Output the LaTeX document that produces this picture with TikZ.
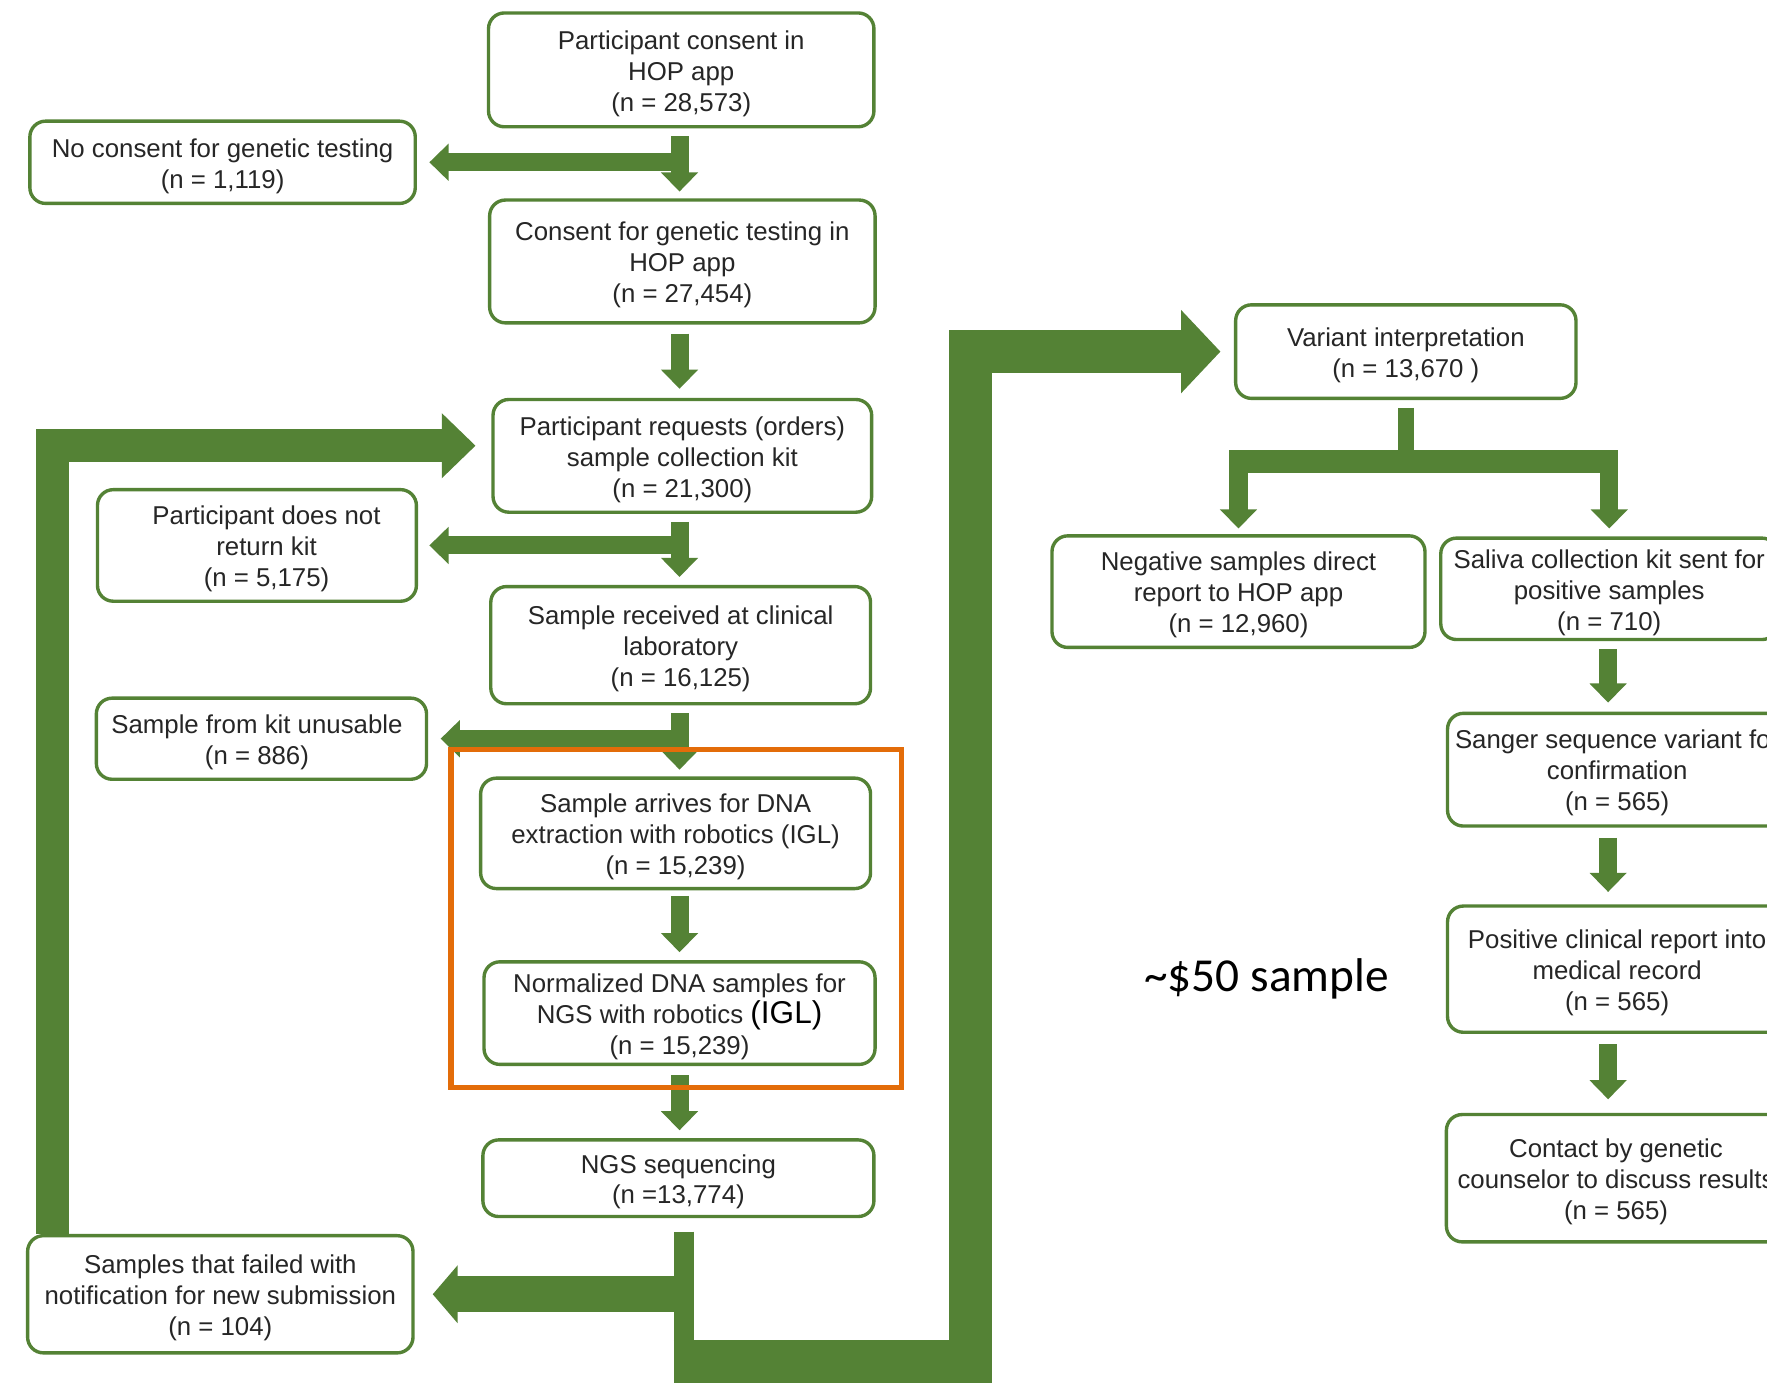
\documentclass[tikz,border=0pt]{standalone}
\usepackage{fontspec}
\setmainfont{Liberation Sans}
\newfontfamily\calfont{Carlito}
\usetikzlibrary{arrows.meta,calc}
\definecolor{hopgreen}{RGB}{84,130,53}
\definecolor{hlorange}{RGB}{227,108,9}
\definecolor{txt}{RGB}{38,38,38}
\newcommand{\topstrut}{\rule{0pt}{11.5pt}}
\tikzset{
  box/.style={draw=hopgreen, line width=1.5pt, rounded corners=7pt, fill=white,
    align=center, text=txt, inner sep=0pt, font=\fontsize{11.45}{13.75}\selectfont},
  flow/.style={draw=hopgreen, line width=8pt, -{Triangle[width=16pt,length=8.5pt]}},
  fatflow/.style={draw=hopgreen, line width=16pt, -{Triangle[width=25pt,length=11pt]}},
  loopflow/.style={draw=hopgreen, line width=14.5pt, line join=miter, -{Triangle[width=28pt,length=15pt]}},
  trunkflow/.style={draw=hopgreen, line width=19pt, line join=miter, -{Triangle[width=36pt,length=17.5pt]}},
  plainbar/.style={draw=hopgreen},
  framebox/.style={draw=hlorange, line width=2.5pt, inner sep=0pt},
  costlabel/.style={font=\calfont\fontsize{21}{25}\selectfont, text=black, inner sep=0pt}
}
\begin{document}
\begin{tikzpicture}[x=0.5pt,y=-0.5pt]
\useasboundingbox (0,0) rectangle (1568,1227);
\fill[white] (0,0) rectangle (1568,1227);
\clip (0,0) rectangle (1568,1227);

% helper coordinates
\coordinate (col) at (603,0);
\coordinate (col2) at (1427,0);
\coordinate (ngsx) at (607,0);
\coordinate (trunk) at (861,0);
\coordinate (loopx) at (46.5,0);
\coordinate (loopy) at (0,395.5);
\coordinate (splity) at (0,409.5);
\coordinate (trunkstart) at (598,1208);

% boxes
\node[box, minimum width=171pt, minimum height=50.5pt] (top) at (604.5,62) {\topstrut Participant consent in\\HOP app\\(n = 28,573)};
\node[box, minimum width=171pt, minimum height=36.5pt] (no) at (197.5,144) {\topstrut No consent for genetic testing\\(n = 1,119)};
\node[box, minimum width=171pt, minimum height=54.5pt] (consent) at (605.5,232) {\topstrut Consent for genetic testing in\\HOP app\\(n = 27,454)};
\node[box, minimum width=168pt, minimum height=50pt] (req) at (605.5,404.5) {\topstrut Participant requests (orders)\\sample collection kit\\(n = 21,300)};
\node[box, minimum width=141.5pt, minimum height=49.5pt] (notret) at (228,484) {\hspace*{8.5pt}\topstrut Participant does not\\\hspace*{8.5pt}return kit\\\hspace*{8.5pt}(n = 5,175)};
\node[box, minimum width=168.5pt, minimum height=52pt] (recv) at (604,572.5) {\topstrut Sample received at clinical\\laboratory\\(n = 16,125)};
\node[box, minimum width=146.5pt, minimum height=36pt] (unus) at (232,655.5) {\topstrut Sample from kit unusable\hspace*{4pt}\\(n = 886)\hspace*{4pt}};
\node[box, minimum width=173pt, minimum height=49pt] (arrive) at (599.5,739.5) {\topstrut Sample arrives for DNA\\extraction with robotics (IGL)\\(n = 15,239)};
\node[box, minimum width=173.5pt, minimum height=45.5pt] (norm) at (603,899) {\topstrut Normalized DNA samples for\\NGS with robotics {\fontsize{14}{13.75}\selectfont\color{black}(IGL)}\\(n = 15,239)};
\node[box, minimum width=173.5pt, minimum height=34pt] (ngs) at (602,1045.5) {\topstrut NGS sequencing\\(n =13,774)};
\node[box, minimum width=171pt, minimum height=52pt] (failed) at (195.5,1148.5) {\topstrut Samples that failed with\\notification for new submission\\(n = 104)};
\node[box, minimum width=151pt, minimum height=41.5pt] (var) at (1247.5,312) {\topstrut Variant interpretation\\(n = 13,670 )};
\node[box, minimum width=165.5pt, minimum height=49.5pt] (neg) at (1099,525) {\topstrut Negative samples direct\\report to HOP app\\(n = 12,960)};
\node[box, minimum width=149.5pt, minimum height=45pt] (sal) at (1428,522.5) {\topstrut Saliva collection kit sent for\\positive samples\\(n = 710)};
\node[box, minimum width=150.5pt, minimum height=50pt] (sanger) at (1435,683) {\topstrut Sanger sequence variant for\\confirmation\\(n = 565)};
\node[box, minimum width=150.5pt, minimum height=56pt] (posrep) at (1435,860) {\topstrut Positive clinical report into\\medical record\\(n = 565)};
\node[box, minimum width=150.5pt, minimum height=56.5pt] (contact) at (1434,1045.5) {\topstrut Contact by genetic\\counselor to discuss results\\(n = 565)};

% main column arrows
\draw[flow, shorten <=3.5pt, shorten >=3pt] (top.south -| col) -- (consent.north -| col);
\draw[flow, shorten >=5.5pt] (col |- no.east) -- (no.east);
\draw[flow, shorten <=4pt, shorten >=4pt] (consent.south -| col) -- (req.north -| col);
\draw[flow, shorten <=3.5pt, shorten >=3.5pt] (req.south -| col) -- (recv.north -| col);
\draw[flow, shorten >=5pt] (col |- notret.east) -- (notret.east);
\draw[flow, shorten <=3.5pt, shorten >=3pt] (recv.south -| col) -- (arrive.north -| col);
\draw[flow, shorten >=5.5pt] (col |- unus.east) -- (unus.east);
\draw[flow, shorten <=2.5pt, shorten >=3.5pt] (arrive.south -| col) -- (norm.north -| col);
\draw[flow, shorten <=4pt, shorten >=3.5pt] (norm.south -| col) -- (ngs.north -| col);

% NGS outputs
\draw[plainbar, line width=9pt, shorten <=6pt] (ngs.south -| ngsx) -- (ngsx |- trunkstart);
\draw[fatflow, shorten >=8pt] (ngsx |- failed.east) -- (failed.east);
\draw[trunkflow, shorten >=6pt] (trunkstart) -- (trunk |- trunkstart) -- (trunk |- var.west) -- (var.west);

% resubmission loop
\draw[loopflow, shorten >=7pt] (loopx |- failed.north) -- (loopx |- loopy) -- (req.west |- loopy);

% variant split
\draw[plainbar, line width=7pt, shorten <=3.5pt] (var.south) -- (var.south |- splity);
\draw[plainbar, line width=10.5pt, shorten <=-4pt, shorten >=-4pt] (neg.north |- splity) -- (sal.north |- splity);
\draw[flow, shorten >=2.5pt] (neg.north |- splity) -- (neg.north);
\draw[flow, shorten >=3.5pt] (sal.north |- splity) -- (sal.north);

% right column
\draw[flow, shorten <=3.5pt, shorten >=4pt] (sal.south -| col2) -- (sanger.north -| col2);
\draw[flow, shorten <=4.5pt, shorten >=5.5pt] (sanger.south -| col2) -- (posrep.north -| col2);
\draw[flow, shorten <=4.5pt, shorten >=6pt] (posrep.south -| col2) -- (contact.north -| col2);

% highlight frame and cost label
\node[framebox, minimum width=200pt, minimum height=150pt] (igl) at (600,815) {};
\node[costlabel] (cost) at (1124,869) {\textasciitilde\$50 sample};
\end{tikzpicture}
\end{document}
